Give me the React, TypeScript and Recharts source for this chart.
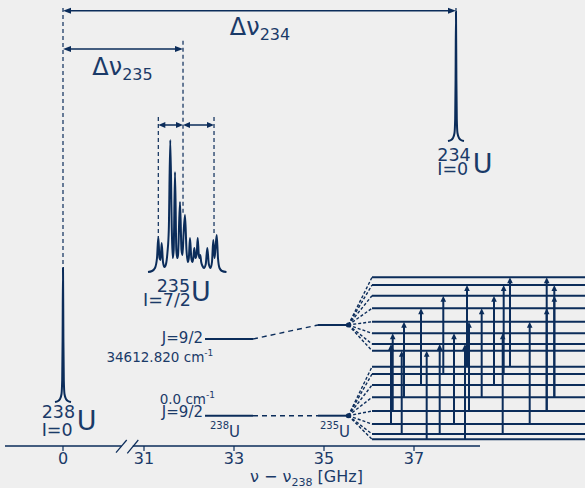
import React from "react";
import { ComposedChart, Line, XAxis, YAxis, ReferenceLine, ReferenceDot } from "recharts";

const NAVY = "#0b2c5a";
const INK = "#1a3a68";
const FONT = "DejaVu Sans, sans-serif";

// broken axis: 0 GHz on the left, then 31..37 GHz
const SHIFT = 29.2;
const X = (ghz: number) => (ghz > 15 ? ghz - SHIFT : ghz);

const tickGHz = [0, 31, 33, 35, 37];
const tickLabels = ["0", "31", "33", "35", "37"];

// spectra [GHz, signal]
const spec238 = [
  [-0.178, 44], [-0.111, 45], [-0.067, 47], [-0.033, 52], [-0.018, 66], [-0.009, 106], [0, 178],
  [0.009, 106], [0.018, 66], [0.033, 52], [0.067, 47], [0.111, 45], [0.178, 44],
];
const spec234 = [
  [37.755, 305], [37.822, 306], [37.866, 308], [37.9, 313], [37.915, 327], [37.924, 367], [37.933, 434],
  [37.942, 367], [37.951, 327], [37.966, 313], [38.0, 308], [38.044, 306], [38.111, 305],
];
const spec235 = [
  [31.089, 174], [31.178, 175], [31.244, 178], [31.289, 188], [31.318, 209], [31.344, 188], [31.367, 186],
  [31.393, 203], [31.422, 184], [31.456, 179], [31.489, 182], [31.522, 194], [31.551, 216], [31.584, 306],
  [31.618, 216], [31.638, 188], [31.66, 196], [31.689, 274], [31.718, 196], [31.738, 188], [31.756, 191],
  [31.8, 244], [31.833, 196], [31.856, 191], [31.878, 211], [31.911, 231], [31.944, 196], [31.973, 184],
  [31.996, 188], [32.022, 208], [32.051, 188], [32.073, 184], [32.096, 188], [32.118, 198], [32.144, 188],
  [32.171, 192], [32.193, 208], [32.218, 191], [32.233, 188], [32.251, 191], [32.271, 184], [32.3, 180],
  [32.333, 178], [32.373, 182], [32.407, 198], [32.44, 182], [32.478, 178], [32.511, 184], [32.54, 206],
  [32.567, 188], [32.589, 198], [32.616, 211], [32.644, 188], [32.678, 178], [32.733, 175], [32.833, 174],
];

// hyperfine levels (diagram heights)
const upperLevels = [168.7, 161, 150.3, 137.7, 124.3, 112.7, 102, 95.3];
const lowerLevels = [79.3, 72, 61, 48.7, 35, 22, 12, 6.7];
// [GHz, lower level index, upper level index]
const transitions = [
  [36.489, 5, 6], [36.527, 4, 5], [36.727, 6, 7], [36.778, 3, 4], [37.156, 2, 3], [37.282, 7, 7],
  [37.571, 6, 6], [37.651, 1, 2], [37.889, 5, 5], [38.133, 7, 6], [38.178, 0, 1], [38.222, 4, 4],
  [38.504, 3, 3], [38.778, 2, 2], [38.971, 6, 5], [38.993, 1, 1], [39.133, 0, 0], [39.571, 5, 4],
  [39.949, 4, 3], [39.949, 4, 0], [40.118, 3, 2], [40.118, 3, 1],
];

const pts = (arr: number[][]) => arr.map(([x, y]) => ({ x: X(x), y }));

const arrow = (head: number, hw: number, both: boolean, width: number) => (p: any) => {
  const { x1, y1, x2, y2 } = p;
  const dx = x2 - x1, dy = y2 - y1;
  const len = Math.hypot(dx, dy) || 1;
  const ux = dx / len, uy = dy / len;
  const tri = (tx: number, ty: number, sx: number, sy: number) => {
    const bx = tx - sx * head, by = ty - sy * head;
    return `${tx},${ty} ${bx - sy * hw},${by + sx * hw} ${bx + sy * hw},${by - sx * hw}`;
  };
  const sx = both ? x1 + ux * head * 0.7 : x1;
  const sy = both ? y1 + uy * head * 0.7 : y1;
  return (
    <g>
      <line x1={sx} y1={sy} x2={x2 - ux * head * 0.7} y2={y2 - uy * head * 0.7} stroke={NAVY} strokeWidth={width} />
      <polygon points={tri(x2, y2, ux, uy)} fill={NAVY} />
      {both && <polygon points={tri(x1, y1, -ux, -uy)} fill={NAVY} />}
    </g>
  );
};

const seg = (key: string, x1: number, y1: number, x2: number, y2: number, extra: any = {}) => (
  <ReferenceLine
    key={key}
    segment={[{ x: X(x1), y: y1 }, { x: X(x2), y: y2 }]}
    stroke={NAVY}
    strokeWidth={1.5}
    ifOverflow="visible"
    {...extra}
  />
);

const txt = (key: string, x: number, y: number, content: React.ReactNode, size: number, anchor = "start") => (
  <ReferenceDot
    key={key}
    x={X(x)}
    y={y}
    r={0}
    ifOverflow="visible"
    shape={(p: any) => (
      <text x={p.cx} y={p.cy} fontSize={size} textAnchor={anchor} fill={INK} fontFamily={FONT}>
        {content}
      </text>
    )}
  />
);

const cm = (v: string) => (
  <>
    {v} cm
    <tspan fontSize={9} dy={-6}>-1</tspan>
  </>
);

export default function App() {
  const ticks = tickGHz.map(X);
  const dash = { strokeDasharray: "4 3", strokeWidth: 1.2 };
  const fan = { strokeDasharray: "3 2", strokeWidth: 1.4 };
  return (
    <div style={{ position: "absolute", left: 0, top: 0, width: 585, height: 488, background: "#efefef" }}>
      <ComposedChart width={585} height={488} margin={{ top: 0, right: 0, bottom: 0, left: 5 }} style={{ fontFamily: FONT }}>
        <XAxis
          dataKey="x"
          type="number"
          domain={[-58 / 45, 522 / 45]}
          allowDataOverflow
          ticks={ticks}
          interval={0}
          height={42}
          axisLine={false}
          tickLine={{ stroke: NAVY, strokeWidth: 1.2 }}
          tickSize={5}
          tick={{ fill: INK, fontSize: 16, fontFamily: FONT }}
          tickFormatter={(v: number) => tickLabels[ticks.indexOf(v)] ?? String(v)}
        />
        <YAxis type="number" domain={[0, 446]} hide allowDataOverflow />

        {/* axis line with break */}
        {seg("ax1", -1.289, 0, 1.3, 0)}
        {seg("ax2", 30.75, 0, 38.467, 0)}
        {seg("br1", 1.178, -6.7, 1.416, 6, { strokeWidth: 1.2 })}
        {seg("br2", 1.429, -7.3, 1.673, 6, { strokeWidth: 1.2 })}

        {/* guides */}
        {seg("d0", 0, 438, 0, 178, dash)}
        {seg("d1", 31.867, 405.3, 31.867, 233, dash)}
        {seg("d2", 31.318, 329, 31.318, 209, dash)}
        {seg("d3", 32.556, 329, 32.556, 211, dash)}
        {seg("d4", 37.933, 438, 37.933, 434, dash)}

        {/* isotope shift arrows */}
        {seg("a234", 0, 435.3, 37.933, 435.3, { shape: arrow(8, 3, true, 1.5) })}
        {seg("a235", 0, 397, 31.867, 397, { shape: arrow(8, 3, true, 1.5) })}
        {seg("s1", 31.318, 321, 31.867, 321, { shape: arrow(7, 3, true, 1.5) })}
        {seg("s2", 31.867, 321, 32.556, 321, { shape: arrow(7, 3, true, 1.5) })}

        <Line data={pts(spec238)} dataKey="y" type="monotone" stroke={NAVY} strokeWidth={2} dot={false} isAnimationActive={false} />
        <Line data={pts(spec235)} dataKey="y" type="monotone" stroke={NAVY} strokeWidth={2} dot={false} isAnimationActive={false} />
        <Line data={pts(spec234)} dataKey="y" type="monotone" stroke={NAVY} strokeWidth={2} dot={false} isAnimationActive={false} />

        {/* level scheme */}
        {seg("uj1", 32.356, 107, 33.422, 107, { strokeWidth: 2 })}
        {seg("uj2", 33.422, 107, 34.867, 121, { strokeDasharray: "5 4", strokeWidth: 1.4 })}
        {seg("uj3", 34.867, 121, 35.54, 121, { strokeWidth: 2 })}
        {seg("lj1", 32.356, 30.3, 33.422, 30.3, { strokeWidth: 2 })}
        {seg("lj2", 33.422, 30.3, 34.867, 30.3, { strokeDasharray: "5 4", strokeWidth: 1.4 })}
        {seg("lj3", 34.867, 30.3, 35.54, 30.3, { strokeWidth: 2 })}
        <ReferenceDot x={X(35.54)} y={121} r={2.5} fill={NAVY} stroke="none" />
        <ReferenceDot x={X(35.54)} y={30.3} r={2.5} fill={NAVY} stroke="none" />
        {upperLevels.map((y, i) => seg(`uf${i}`, 35.54, 121, 36.067, y, fan))}
        {lowerLevels.map((y, i) => seg(`lf${i}`, 35.54, 30.3, 36.067, y, fan))}
        {upperLevels.map((y, i) => seg(`ul${i}`, 36.067, y, 40.8, y, { strokeWidth: 2 }))}
        {lowerLevels.map((y, i) => seg(`ll${i}`, 36.067, y, 40.8, y, { strokeWidth: 2 }))}
        {transitions.map(([x, lo, up], i) =>
          seg(`t${i}`, x, lowerLevels[lo], x, upperLevels[up], { shape: arrow(6, 2.8, false, 2) })
        )}

        {/* labels */}
        {txt("l234", 33.578, 411, <><tspan fontSize={24}>Δν</tspan><tspan fontSize={16} dy={5}>234</tspan></>, 24, "middle")}
        {txt("l235", 30.522, 371, <><tspan fontSize={24}>Δν</tspan><tspan fontSize={16} dy={5}>235</tspan></>, 24, "middle")}

        {txt("i238a", -0.473, 28, "238", 17.5)}
        {txt("i238b", -0.473, 10, "I=0", 17.5)}
        {txt("i238c", 0.304, 16, "U", 27)}
        {txt("i235a", 31.282, 154.5, "235", 17.5)}
        {txt("i235b", 30.978, 140, "I=7/2", 17.5)}
        {txt("i235c", 32.044, 145, "U", 27)}
        {txt("i234a", 37.518, 285.5, "234", 17.5)}
        {txt("i234b", 37.518, 271, "I=0", 17.5)}
        {txt("i234c", 38.304, 273, "U", 27)}

        {txt("ju", 32.311, 103, "J=9/2", 15, "end")}
        {txt("eu", 32.54, 84, cm("34612.820"), 13.5, "end")}
        {txt("el", 32.578, 42, cm("0.0"), 13.5, "end")}
        {txt("jl", 32.311, 29.5, "J=9/2", 15, "end")}
        {txt("s238", 32.467, 9.5, <><tspan fontSize={10} dy={-7.5}>238</tspan><tspan fontSize={15} dy={7.5}>U</tspan></>, 15)}
        {txt("s235", 34.911, 9.5, <><tspan fontSize={10} dy={-7.5}>235</tspan><tspan fontSize={15} dy={7.5}>U</tspan></>, 15)}

        {txt("xt", 34.611, -36, <>ν − ν<tspan fontSize={11} dy={3.5}>238</tspan><tspan dy={-3.5}> [GHz]</tspan></>, 16, "middle")}
      </ComposedChart>
    </div>
  );
}
